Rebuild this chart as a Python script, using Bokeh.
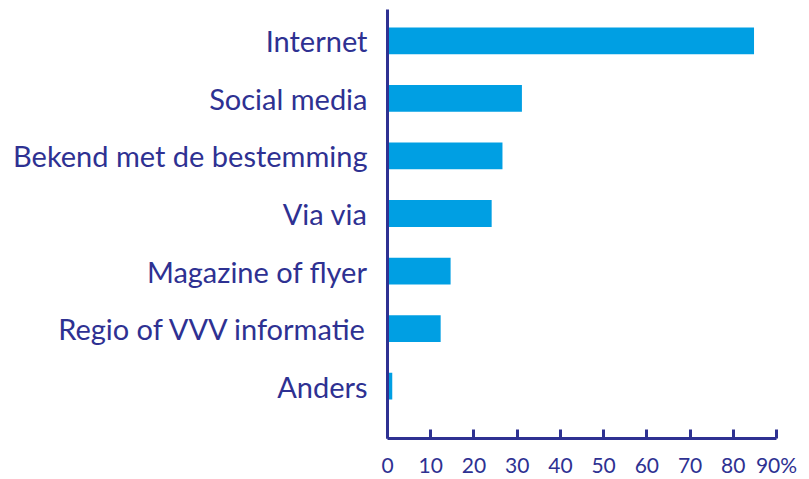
from bokeh.plotting import figure
from bokeh.models import FixedTicker, Range1d
from bokeh.embed import file_html
from bokeh.resources import INLINE

categories = ["Internet", "Social media", "Bekend met de bestemming", "Via via",
              "Magazine of flyer", "Regio of VVV informatie", "Anders"]
values = [84.8, 31.1, 26.6, 24.1, 14.6, 12.3, 1.1]
x_ticks = [0, 10, 20, 30, 40, 50, 60, 70, 80, 90]
x_tick_labels = ["0", "10", "20", "30", "40", "50", "60", "70", "80", "90%"]

NAVY = "#2E3192"
BLUE = "#009FE3"
FONT = "Lato"

n = len(categories)
ypos = [n - 1 - i for i in range(n)]

p = figure(width=805, height=479, output_backend="svg", toolbar_location=None,
           x_range=Range1d(0, 90), y_range=Range1d(-0.91, n - 1 + 0.545),
           min_border_left=387, min_border_right=29, min_border_top=9,
           min_border_bottom=36)

p.hbar(y=ypos, right=values, left=0, height=0.465, color=BLUE, line_color=None)

p.grid.visible = False
p.outline_line_color = None
p.background_fill_color = "white"
p.border_fill_color = "white"

xa = p.xaxis[0]
xa.ticker = FixedTicker(ticks=x_ticks)
xa.major_label_overrides = {t: l for t, l in zip(x_ticks, x_tick_labels)}
xa.axis_line_color = NAVY
xa.axis_line_width = 3
xa.major_tick_line_color = NAVY
xa.major_tick_line_width = 3
xa.major_tick_in = 9
xa.major_tick_out = 0
xa.minor_tick_line_color = None
xa.major_label_text_color = NAVY
xa.major_label_text_font = FONT
xa.major_label_text_font_size = "21px"
xa.major_label_standoff = 13

ya = p.yaxis[0]
ya.ticker = FixedTicker(ticks=ypos)
ya.major_label_overrides = {y: c for y, c in zip(ypos, categories)}
ya.axis_line_color = NAVY
ya.axis_line_width = 3
ya.major_tick_line_color = None
ya.minor_tick_line_color = None
ya.major_label_text_color = NAVY
ya.major_label_text_font = FONT
ya.major_label_text_font_size = "29px"
ya.major_label_standoff = 14

open("out.html", "w").write(file_html(p, INLINE))
